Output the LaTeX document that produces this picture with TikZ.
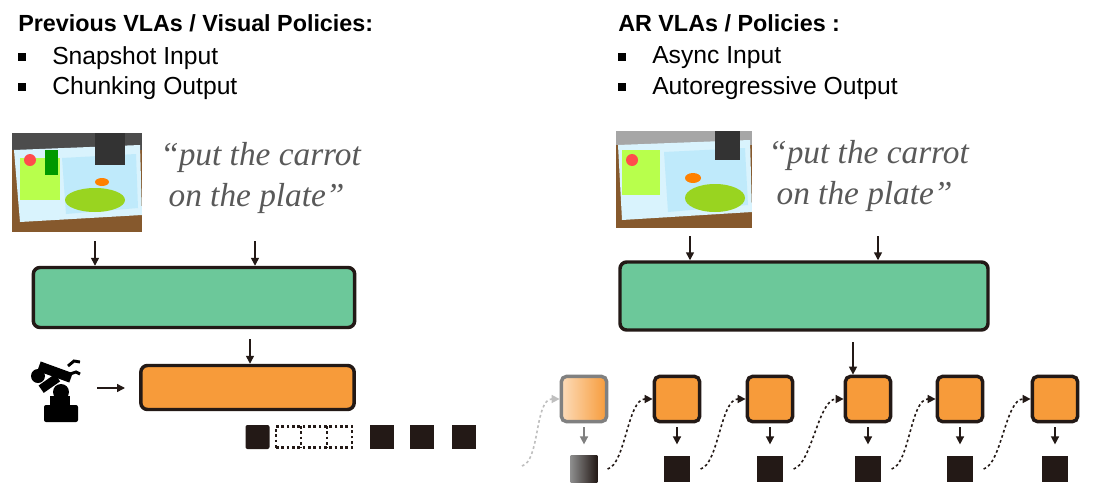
\documentclass[tikz,border=0pt]{standalone}
\usepackage{fontspec}
\setmainfont{Liberation Sans}
\newfontfamily\quotefont{Liberation Serif}
\usetikzlibrary{arrows.meta}
\definecolor{gbox}{HTML}{6CC89A}
\definecolor{obox}{HTML}{F79B3A}
\definecolor{dk}{HTML}{231916}
\begin{document}
\begin{tikzpicture}[x=0.75pt,y=-0.75pt,
  title/.style={anchor=west,font=\bfseries\fontsize{17.5}{20}\selectfont,inner sep=0},
  item/.style={anchor=west,font=\fontsize{18.5}{20}\selectfont,inner sep=0},
  bul/.style={fill=black,minimum size=6pt,inner sep=0},
  quote/.style={anchor=west,align=left,font=\quotefont\itshape\fontsize{25}{31}\selectfont,text=black!65,inner sep=0},
  bigbox/.style={draw=dk,line width=2.6pt,rounded corners=5pt,inner sep=0},
  arr/.style={-{Triangle[length=6pt,width=6pt]},line width=1.1pt,draw=dk},
  sq/.style={fill=dk,inner sep=0,minimum size=18pt},
  osq/.style={draw=dk,fill=obox,line width=2.6pt,rounded corners=4pt,minimum size=34pt,inner sep=0},
  dcurve/.style={-{Triangle[length=6pt,width=6pt]},line width=1.2pt,dash pattern=on 2pt off 2pt,draw=dk}]
\useasboundingbox[fill=white] (0,0) rectangle (1099,500);
% ---------- left ----------
\node[title] (lt) at (18,23) {Previous VLAs / Visual Policies:};
\node[bul] (lb1) at (22,57) {};\node[item] (li1) at (52,58) {Snapshot Input};
\node[bul] (lb2) at (22,87) {};\node[item] (li2) at (52,88) {Chunking Output};
% photo left
\begin{scope}
\clip (12,133) rectangle (142,232);
\fill[brown!70!black] (12,133) rectangle (142,232);
\fill[gray!60!black] (12,133) rectangle (142,150);
\fill[cyan!15!white] (14,150) -- (140,145) -- (142,215) -- (20,222) -- cycle;
\fill[green!40!yellow!70] (20,158) rectangle (60,200);
\fill[cyan!25] (62,158) -- (136,154) -- (138,208) -- (66,214) -- cycle;
\fill[yellow!60!green] (95,200) ellipse (30 and 12);
\fill[red!70] (30,160) circle (6);
\fill[green!60!black] (45,150) rectangle (58,175);
\fill[black!80] (95,133) rectangle (125,165);
\fill[orange] (102,182) ellipse (7 and 4);
\end{scope}
\node[quote] (lq) at (160,178) {“put the carrot\\ \ on the plate”};
\node[bigbox,fill=gbox,minimum width=241pt,minimum height=45pt] (lg) at (194,297.5) {};
\coordinate (la1) at (95,241);\coordinate (la2) at (255,241);
\draw[arr] (la1) -- (la1|-lg.north);
\draw[arr] (la2) -- (la2|-lg.north);
\node[bigbox,fill=obox,minimum width=160pt,minimum height=33pt] (lo) at (247.5,387.5) {};
\coordinate (la3) at (250,339);
\draw[arr] (la3) -- (la3|-lo.north);
% robot icon
\begin{scope}[fill=black]
\fill[rounded corners=1.5pt] (44,405) rectangle (78,422);
\fill (50,396) rectangle (70,406);
\fill (61,392) circle (8);
\fill (38,376) circle (7);
\fill[rotate around={35:(48,385)}] (40,380) rectangle (60,389);
\fill[rotate around={-20:(55,372)}] (38,367) rectangle (72,377);
\draw[line width=2.2pt] (68,366) -- (74,361) -- (80,362);
\draw[line width=2.2pt] (70,374) -- (76,372) -- (80,374);
\end{scope}
\coordinate (ra) at (97,388);
\draw[arr] (ra) -- ++(28,0);
\node[sq,rounded corners=1.5pt] (l0) at (257.5,437) {};
\node[draw=dk,line width=2pt,dash pattern=on 2pt off 2pt,inner sep=0,minimum width=57pt,minimum height=16pt] (dots) at (314,437) {};
\draw[dk,line width=2pt,dash pattern=on 2pt off 2pt] (301,426) -- (301,448) (327,426) -- (327,448);
\node[sq] (l1) at (382,437) {};
\node[sq] (l2) at (422,437) {};
\node[sq] (l3) at (464,437) {};
% ---------- right ----------
\node[title] (rt) at (618,23) {AR VLAs / Policies :};
\node[bul] (rb1) at (622,57) {};\node[item] (ri1) at (652,58) {Async Input};
\node[bul] (rb2) at (622,87) {};\node[item] (ri2) at (652,88) {Autoregressive Output};
\begin{scope}
\clip (616,131) rectangle (752,228);
\fill[brown!70!black] (616,131) rectangle (752,228);
\fill[gray!70] (616,131) rectangle (752,145);
\fill[cyan!15!white] (618,145) -- (750,140) -- (752,212) -- (622,220) -- cycle;
\fill[green!40!yellow!70] (622,150) rectangle (660,195);
\fill[cyan!25] (664,152) -- (745,148) -- (748,205) -- (668,212) -- cycle;
\fill[yellow!60!green] (715,198) ellipse (30 and 14);
\fill[red!70] (632,160) circle (6);
\fill[orange] (693,178) ellipse (8 and 5);
\fill[black!80] (715,131) rectangle (740,160);
\end{scope}
\node[quote] (rq) at (768,176) {“put the carrot\\ \ on the plate”};
\node[bigbox,fill=gbox,minimum width=276pt,minimum height=51pt] (rg) at (804,296) {};
\coordinate (ra1) at (690,236);\coordinate (ra2) at (878,236);
\draw[arr] (ra1) -- (ra1|-rg.north);
\draw[arr] (ra2) -- (ra2|-rg.north);
% autoregressive chain
\node[osq,draw=gray,left color=obox!35,right color=obox] (o1) at (584,399) {};
\foreach \x [count=\i from 2] in {677,770,868,960,1055}
  \node[osq] (o\i) at (\x,399) {};
\node[sq,minimum size=20pt,left color=gray!90,right color=dk] (s1) at (584,469) {};
\foreach \i in {2,...,6}
  \node[sq,minimum size=20pt] (s\i) at (o\i|-s1) {};
\coordinate (ra3) at (853,342);
\draw[arr] (ra3) -- (ra3|-o4.north);
\draw[arr,draw=gray] (o1.south) ++(0,4) -- ++(0,17);
\foreach \i in {2,...,6} \draw[arr] (o\i.south) ++(0,4) -- ++(0,17);
\coordinate (c0) at (522,466);
\draw[dcurve,draw=gray!50] (c0) .. controls +(18,-5) and +(-25,0) .. (o1.west);
\foreach \i [evaluate=\i as \j using int(\i-1)] in {2,...,6}
  \draw[dcurve] (s\j.east) ++(10,0) .. controls +(18,-5) and +(-25,0) .. (o\i.west);
\end{tikzpicture}
\end{document}
